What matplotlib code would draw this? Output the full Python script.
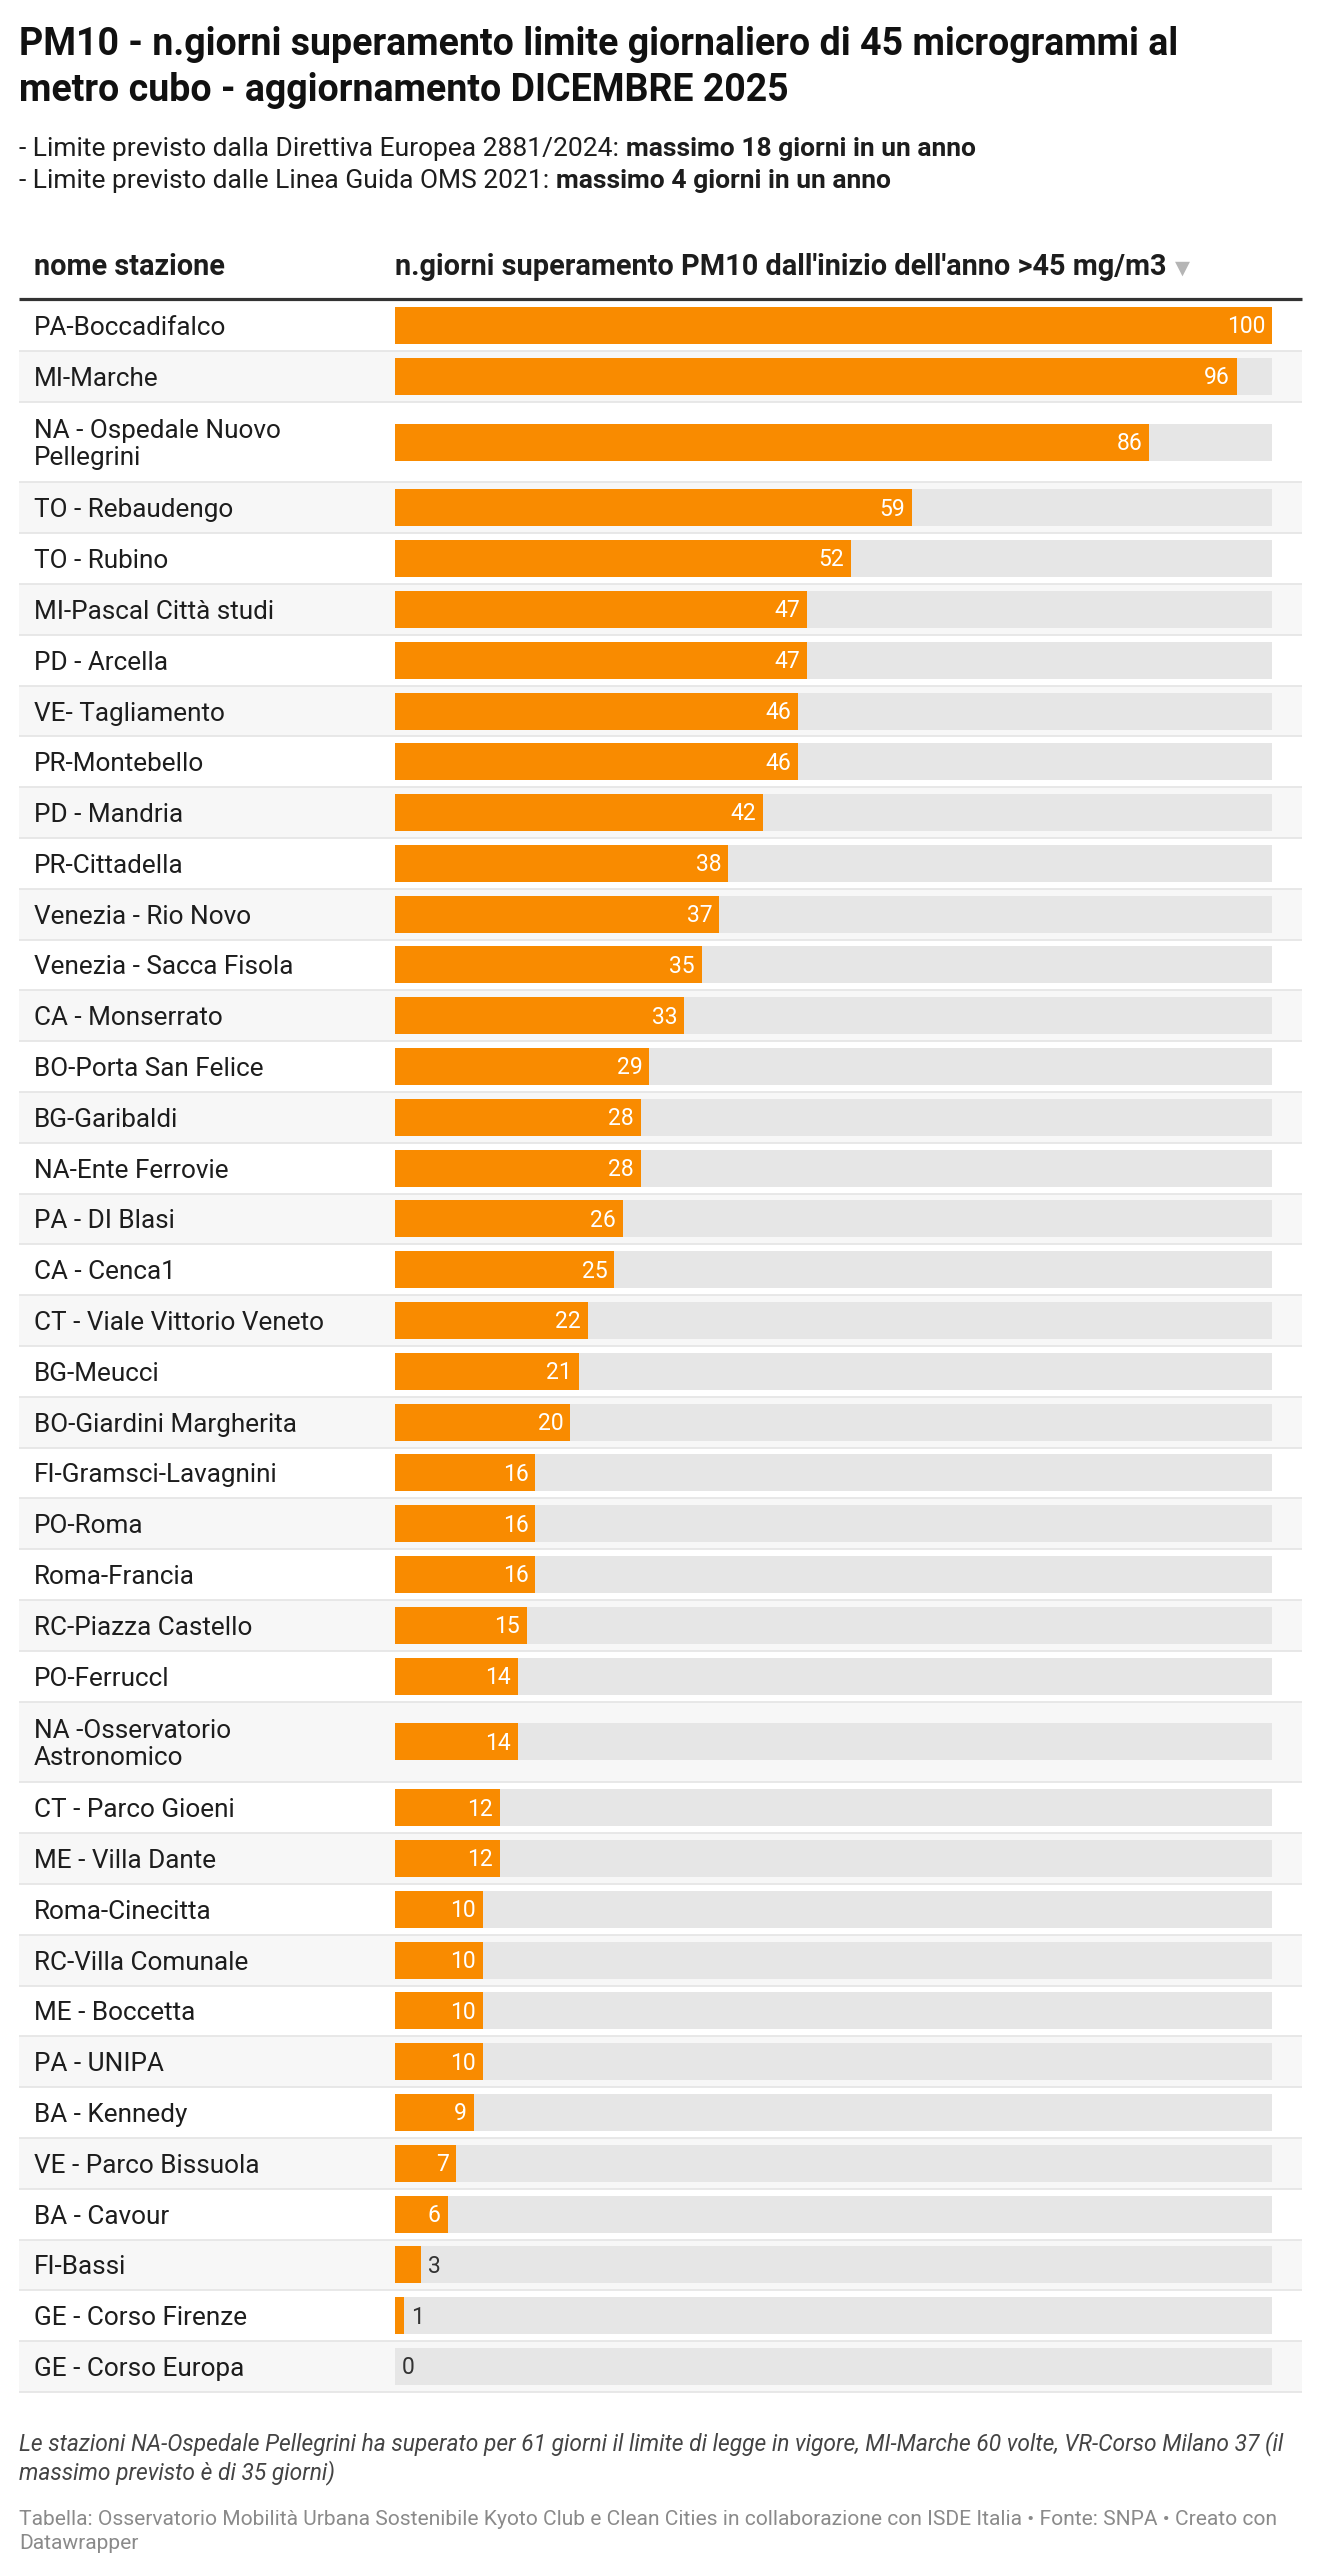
import matplotlib.pyplot as plt

# data
stations = [
    "PA-Boccadifalco", "MI-Marche", "NA - Ospedale Nuovo\nPellegrini",
    "TO - Rebaudengo", "TO - Rubino", "MI-Pascal Città studi", "PD - Arcella",
    "VE- Tagliamento", "PR-Montebello", "PD - Mandria", "PR-Cittadella",
    "Venezia - Rio Novo", "Venezia - Sacca Fisola", "CA - Monserrato",
    "BO-Porta San Felice", "BG-Garibaldi", "NA-Ente Ferrovie", "PA - DI Blasi",
    "CA - Cenca1", "CT - Viale Vittorio Veneto", "BG-Meucci",
    "BO-Giardini Margherita", "FI-Gramsci-Lavagnini", "PO-Roma", "Roma-Francia",
    "RC-Piazza Castello", "PO-Ferruccl", "NA -Osservatorio\nAstronomico",
    "CT - Parco Gioeni", "ME - Villa Dante", "Roma-Cinecitta",
    "RC-Villa Comunale", "ME - Boccetta", "PA - UNIPA", "BA - Kennedy",
    "VE - Parco Bissuola", "BA - Cavour", "FI-Bassi", "GE - Corso Firenze",
    "GE - Corso Europa",
]
days = [100, 96, 86, 59, 52, 47, 47, 46, 46, 42, 38, 37, 35, 33, 29, 28, 28,
        26, 25, 22, 21, 20, 16, 16, 16, 15, 14, 14, 12, 12, 10, 10, 10, 10, 9,
        7, 6, 3, 1, 0]
max_days = 100

title = ("PM10 - n.giorni superamento limite giornaliero di 45 microgrammi al\n"
         "metro cubo - aggiornamento DICEMBRE 2025")
notes = [
    ("- Limite previsto dalla Direttiva Europea 2881/2024: ", "massimo 18 giorni in un anno"),
    ("- Limite previsto dalle Linea Guida OMS 2021: ", "massimo 4 giorni in un anno"),
]
col1 = "nome stazione"
col2 = "n.giorni superamento PM10 dall'inizio dell'anno >45 mg/m3"
footnote = ("Le stazioni NA-Ospedale Pellegrini ha superato per 61 giorni il limite di legge in vigore, "
            "MI-Marche 60 volte, VR-Corso Milano 37 (il\nmassimo previsto è di 35 giorni)")
source = ("Tabella: Osservatorio Mobilità Urbana Sostenibile Kyoto Club e Clean Cities in "
          "collaborazione con ISDE Italia • Fonte: SNPA • Creato con\nDatawrapper")

plt.rcParams['font.family'] = ['Roboto', 'DejaVu Sans']

ORANGE = '#f98b00'
TRACK = '#e6e6e6'
DARK = '#1d1d1d'

W, H = 1321, 2560
fig = plt.figure(figsize=(W / 100, H / 100), dpi=100)
bg = fig.add_axes([0, 0, 1, 1])
bg.set_xlim(0, W)
bg.set_ylim(H, 0)
bg.axis('off')

# row layout (pixels)
left, right = 19, 1302
bar_x0, bar_x1 = 395, 1272
row_h, extra_h = 50.8, 30
tops, heights = [], []
y = 300
for name in stations:
    h = row_h + extra_h * name.count('\n')
    tops.append(y)
    heights.append(h)
    y += h
bottom = y
centers = [t + h / 2 for t, h in zip(tops, heights)]

# title and notes (baseline = last line of a multi-line text)
bg.text(left, 101, title, fontsize=27, fontweight='bold', color='#111111',
        va='baseline', ha='left', linespacing=1.31)
for i, (plain, bold) in enumerate(notes):
    t = bg.text(left, 156 + i * 32, plain, fontsize=19, color=DARK, va='baseline')
    bg.annotate(bold, xy=(1, 0), xycoords=t, xytext=(0, 0), textcoords='offset points',
                fontsize=19, fontweight='bold', color=DARK, va='bottom')

# header
bg.text(34, 275, col1, fontsize=20.8, fontweight='bold', color=DARK, va='baseline')
h2 = bg.text(bar_x0, 275, col2, fontsize=20.8, fontweight='bold', color=DARK, va='baseline')
bg.annotate('▼', xy=(1, 0.45), xycoords=h2, xytext=(6, 0), textcoords='offset points',
            fontsize=14, color='#b5b5b5', va='center', family='DejaVu Sans')
bg.hlines(299, left, right, color='#333333', lw=2.3)

# row backgrounds and separators
shade = ['white' if i % 2 == 0 else '#f7f7f7' for i in range(len(stations))]
bg.barh(centers, right - left, left=left, height=heights, color=shade, lw=0)
bg.hlines(tops[1:] + [bottom], left, right, color='#e6e6e6', lw=1.3)
for name, c in zip(stations, centers):
    bg.text(34, c + 2.5, name, fontsize=18.8, color=DARK, va='center', ha='left',
            linespacing=1.2)

# bars
ax = fig.add_axes([bar_x0 / W, 0, (bar_x1 - bar_x0) / W, 1])
ax.set_xlim(0, max_days)
ax.set_ylim(H, 0)
ax.axis('off')
ax.patch.set_visible(False)
ax.barh(centers, [max_days] * len(days), height=37, color=TRACK, lw=0)
ax.barh(centers, days, height=37, color=ORANGE, lw=0)
for v, c in zip(days, centers):
    if v >= 5:
        ax.annotate(str(v), xy=(v, c), xytext=(-5, -1), textcoords='offset points',
                    ha='right', va='center', fontsize=16.5, color='white')
    else:
        ax.annotate(str(v), xy=(v, c), xytext=(5, -1), textcoords='offset points',
                    ha='left', va='center', fontsize=16.5, color='#333333')

# footer
bg.text(left, 2479, footnote, fontsize=16.4, style='italic', color='#444444',
        va='baseline', linespacing=1.18)
bg.text(left, 2549, source, fontsize=15.1, color='#8a8a8a', va='baseline', linespacing=1.36)

fig.savefig('out.png', dpi=100)
